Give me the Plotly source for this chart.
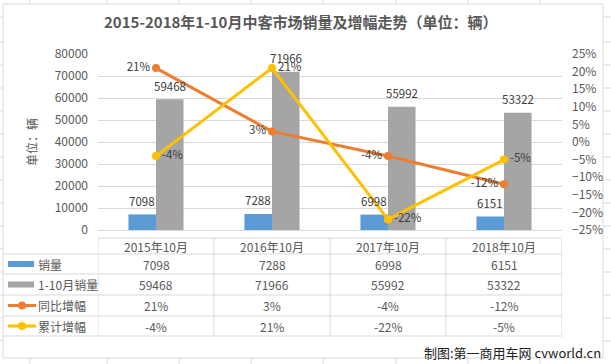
import plotly.graph_objects as go

# ---------------- data ----------------
categories = ["2015年10月", "2016年10月", "2017年10月", "2018年10月"]
monthly_sales = [7098, 7288, 6998, 6151]
ytd_sales = [59468, 71966, 55992, 53322]
yoy_growth = [21, 3, -4, -12]
ytd_growth = [-4, 21, -22, -5]
series_names = ["销量", "1-10月销量", "同比增幅", "累计增幅"]
title_text = "2015-2018年1-10月中客市场销量及增幅走势（单位：辆）"
axis_title = "单位：辆"
watermark = "制图:第一商用车网 cvworld.cn"

# ---------------- style ----------------
W, H = 611, 364
L, R, T, B = 98, 562, 54, 230
BLUE, GRAY, ORANGE, YELLOW = "#5B9BD5", "#A5A5A5", "#ED7D31", "#FFC000"
TXT = "#595959"
LBL = "#404040"
GRID = "#D9D9D9"
FONT = "Noto Sans CJK SC, Noto Sans, sans-serif"
BARGAP = 0.525


def px(x):
    return (x - L) / (R - L)


def py(y):
    return (B - y) / (B - T)


def note(x, y, text, xref="paper", size=12, color=TXT, xanchor="center", **kw):
    return dict(x=x, xref=xref, y=y, yref="paper", text=text, showarrow=False,
                xanchor=xanchor, yanchor="middle", font=dict(size=size, color=color, family=FONT), **kw)


fig = go.Figure()
fig.add_trace(go.Bar(x=categories, y=monthly_sales, name=series_names[0], marker_color=BLUE))
fig.add_trace(go.Bar(x=categories, y=ytd_sales, name=series_names[1], marker_color=GRAY))
fig.add_trace(go.Scatter(x=categories, y=yoy_growth, name=series_names[2], yaxis="y2",
                         mode="lines+markers+text", line=dict(color=ORANGE, width=3),
                         marker=dict(size=8, color=ORANGE),
                         text=[f"{v}%" for v in yoy_growth], textposition="middle left",
                         textfont=dict(size=11.5, color=LBL), cliponaxis=False))
fig.add_trace(go.Scatter(x=categories, y=ytd_growth, name=series_names[3], yaxis="y2",
                         mode="lines+markers+text", line=dict(color=YELLOW, width=3),
                         marker=dict(size=8, color=YELLOW),
                         text=[f"{v}%" for v in ytd_growth], textposition="middle right",
                         textfont=dict(size=11.5, color=LBL), cliponaxis=False))

shapes = []
annotations = []

# bar value labels (placed at the bar tops through the data axes)
cat_px = (R - L) / len(categories)
bar_px = cat_px * (1 - BARGAP) / 2
for series, sign in [(monthly_sales, -1), (ytd_sales, 1)]:
    for c, v in zip(categories, series):
        annotations.append(dict(x=c, xref="x", y=v, yref="y", text=str(v), showarrow=False,
                                xanchor="center", yanchor="middle", xshift=sign * bar_px / 2, yshift=13.5,
                                font=dict(size=11.5, color=LBL, family=FONT)))

# chart frame
shapes.append(dict(type="rect", xref="paper", yref="paper", x0=px(3), x1=px(603), y0=py(4), y1=py(358),
                   line=dict(color=GRID, width=1), layer="below"))
# excel cell grid outside frame
for gx in [30, 107, 179, 251, 323, 396, 468, 540]:
    shapes.append(dict(type="line", xref="paper", yref="paper", x0=px(gx), x1=px(gx), y0=py(0), y1=py(4),
                       line=dict(color=GRID, width=1)))
    shapes.append(dict(type="line", xref="paper", yref="paper", x0=px(gx), x1=px(gx), y0=py(358), y1=py(364),
                       line=dict(color=GRID, width=1)))
for gy in [17, 42, 65, 88, 111, 134, 157, 180, 203, 226, 249, 272, 295, 318, 341]:
    shapes.append(dict(type="line", xref="paper", yref="paper", x0=px(0), x1=px(3), y0=py(gy), y1=py(gy),
                       line=dict(color=GRID, width=1)))
    shapes.append(dict(type="line", xref="paper", yref="paper", x0=px(603), x1=px(611), y0=py(gy), y1=py(gy),
                       line=dict(color=GRID, width=1)))

# data table lines
shapes.append(dict(type="line", xref="paper", yref="paper", x0=px(98), x1=px(562), y0=py(238), y1=py(238),
                   line=dict(color=GRID, width=1)))
for ry in [254, 274, 295, 316, 336]:
    shapes.append(dict(type="line", xref="paper", yref="paper", x0=px(3), x1=px(562), y0=py(ry), y1=py(ry),
                       line=dict(color=GRID, width=1)))
for i in range(len(categories) + 1):
    shapes.append(dict(type="line", xref="x", yref="paper", x0=i - 0.5, x1=i - 0.5, y0=py(238), y1=py(336),
                       line=dict(color=GRID, width=1)))

row_centers = [264, 284.5, 305.5, 326]
rows = [
    [str(v) for v in monthly_sales],
    [str(v) for v in ytd_sales],
    [f"{v}%" for v in yoy_growth],
    [f"{v}%" for v in ytd_growth],
]
for c in categories:
    annotations.append(note(c, py(246), c, xref="x"))
for r, vals in enumerate(rows):
    for c, v in zip(categories, vals):
        annotations.append(note(c, py(row_centers[r]), v, xref="x"))
    annotations.append(note(px(36), py(row_centers[r]), series_names[r], xanchor="left"))

# legend keys
for r, col in enumerate([BLUE, GRAY]):
    yc = row_centers[r]
    shapes.append(dict(type="rect", xref="paper", yref="paper", x0=px(8), x1=px(34), y0=py(yc - 3), y1=py(yc + 3),
                       fillcolor=col, line=dict(width=0)))
for r, col in [(2, ORANGE), (3, YELLOW)]:
    yc = row_centers[r]
    shapes.append(dict(type="line", xref="paper", yref="paper", x0=px(8), x1=px(36), y0=py(yc), y1=py(yc),
                       line=dict(color=col, width=3)))
    shapes.append(dict(type="circle", xref="paper", yref="paper", x0=px(18), x1=px(26), y0=py(yc - 4), y1=py(yc + 4),
                       fillcolor=col, line=dict(width=0)))

# title, axis title, watermark
annotations.append(note(px(300), py(22), f"<b>{title_text}</b>", size=15))
annotations.append(note(px(31), py(142), axis_title, textangle=-90))
annotations.append(note(px(603), py(352), watermark, size=13, color="#222222", xanchor="right"))

fig.update_layout(
    template="none",
    width=W, height=H,
    margin=dict(l=L, r=W - R, t=T, b=H - B, pad=0, autoexpand=False),
    paper_bgcolor="white", plot_bgcolor="white",
    showlegend=False,
    barmode="group", bargap=BARGAP, bargroupgap=0,
    font=dict(family=FONT, color=TXT, size=11),
    xaxis=dict(type="category", range=[-0.5, 3.5], showticklabels=False, showgrid=False, ticks="",
               showline=False, zeroline=False, fixedrange=True, automargin=False),
    yaxis=dict(range=[0, 80000], dtick=10000, tickformat="d", showgrid=True, gridcolor=GRID, gridwidth=1,
               zeroline=True, zerolinecolor=GRID, zerolinewidth=1, showline=False, ticks="",
               tickfont=dict(size=12, color=TXT), ticklabelstandoff=9, automargin=False),
    yaxis2=dict(range=[-25, 25], dtick=5, ticksuffix="%", overlaying="y", side="right", showgrid=False,
                zeroline=False, showline=False, ticks="", tickfont=dict(size=12, color=TXT),
                ticklabelstandoff=9, automargin=False),
    shapes=shapes,
    annotations=annotations,
)

fig.write_html("out.html", config={"displayModeBar": False},
               post_script="document.body.style.margin='0';document.body.style.overflow='hidden';")
